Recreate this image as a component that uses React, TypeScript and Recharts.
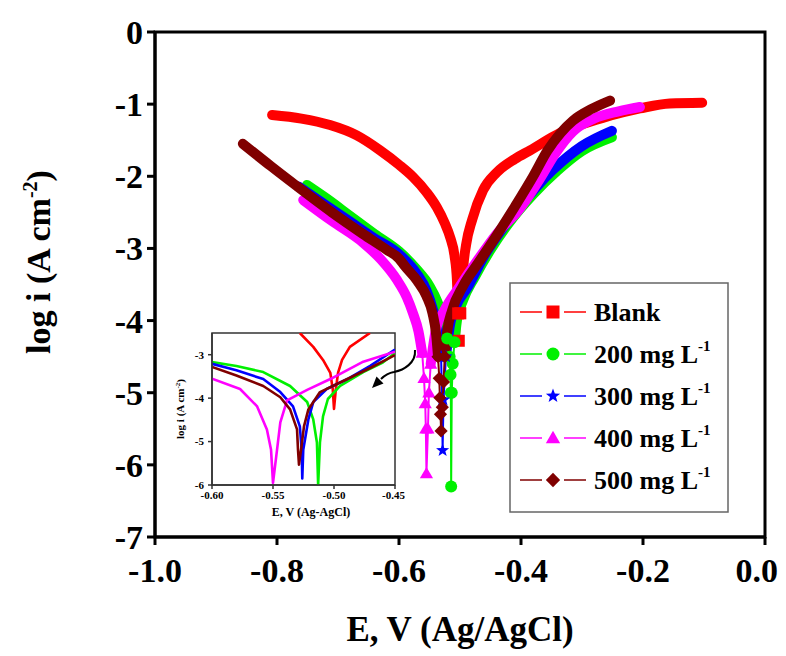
import React from "react";
import { ComposedChart, Line, XAxis, YAxis, ReferenceArea, Label } from "recharts";

const FONT = "Times New Roman, Liberation Serif, DejaVu Serif, serif";

const xTicks = [-1.0, -0.8, -0.6, -0.4, -0.2, 0.0];
const yTicks = [0, -1, -2, -3, -4, -5, -6, -7];
const insetXTicks = [-0.6, -0.55, -0.5, -0.45];
const insetYTicks = [-3, -4, -5, -6];

const seriesNames = ["Blank", "200 mg L", "300 mg L", "400 mg L", "500 mg L"];
const seriesUnits = ["", "-1", "-1", "-1", "-1"];
const seriesColors = ["#ff0000", "#00f000", "#0000ff", "#ff00ff", "#800000"];
const seriesShapes = ["square", "circle", "star", "triangle", "diamond"];

// main plot, [E (V), log i]
const blankCathodic = [[-0.808, -1.15], [-0.76, -1.2], [-0.713, -1.29], [-0.67, -1.43], [-0.631, -1.64], [-0.6, -1.84], [-0.577, -2.01], [-0.555, -2.22], [-0.538, -2.43], [-0.525, -2.65], [-0.516, -2.85], [-0.509, -3.1], [-0.505, -3.44], [-0.503, -3.9]];
const blankTip = [[-0.503, -3.9], [-0.502, -4.28], [-0.4995, -3.9]];
const blankAnodic = [[-0.4995, -3.9], [-0.497, -3.6], [-0.495, -3.3], [-0.49, -2.95], [-0.48, -2.6], [-0.462, -2.19], [-0.44, -1.95], [-0.41, -1.76], [-0.385, -1.64], [-0.336, -1.4], [-0.3, -1.28], [-0.266, -1.19], [-0.205, -1.06], [-0.156, -0.99], [-0.103, -0.98]];

const g200Cathodic = [[-0.751, -2.12], [-0.72, -2.3], [-0.68, -2.55], [-0.64, -2.8], [-0.6, -3.04], [-0.57, -3.3], [-0.55, -3.52], [-0.537, -3.74], [-0.527, -4.0], [-0.521, -4.25]];
const g200Tip = [[-0.521, -4.25], [-0.517, -4.5], [-0.5155, -4.75], [-0.515, -5.0], [-0.5145, -6.3], [-0.5135, -5.0], [-0.512, -4.6], [-0.509, -4.3]];
const g200Anodic = [[-0.509, -4.3], [-0.505, -4.0], [-0.495, -3.72], [-0.476, -3.4], [-0.45, -3.02], [-0.42, -2.65], [-0.38, -2.25], [-0.34, -1.92], [-0.3, -1.65], [-0.251, -1.46]];

const g300Cathodic = [[-0.765, -2.14], [-0.72, -2.4], [-0.68, -2.63], [-0.64, -2.86], [-0.6, -3.08], [-0.57, -3.36], [-0.555, -3.58], [-0.544, -3.86], [-0.535, -4.19], [-0.531, -4.5]];
const g300Tip = [[-0.531, -4.5], [-0.5295, -5.1], [-0.5285, -5.8], [-0.527, -5.1], [-0.523, -4.5]];
const g300Anodic = [[-0.523, -4.5], [-0.517, -4.09], [-0.506, -3.79], [-0.489, -3.56], [-0.46, -3.1], [-0.43, -2.72], [-0.39, -2.3], [-0.35, -1.93], [-0.3, -1.58], [-0.251, -1.37]];

const g400Cathodic = [[-0.757, -2.33], [-0.71, -2.62], [-0.659, -2.92], [-0.63, -3.15], [-0.603, -3.44], [-0.587, -3.68], [-0.577, -3.9], [-0.568, -4.15], [-0.562, -4.45]];
const g400Tip = [[-0.562, -4.45], [-0.559, -4.8], [-0.557, -5.15], [-0.556, -5.5], [-0.555, -6.12], [-0.5525, -5.5], [-0.551, -5.0], [-0.548, -4.6]];
const g400Anodic = [[-0.548, -4.6], [-0.54, -4.15], [-0.525, -3.85], [-0.503, -3.56], [-0.47, -3.15], [-0.44, -2.8], [-0.402, -2.45], [-0.37, -2.05], [-0.345, -1.7], [-0.315, -1.38], [-0.28, -1.2], [-0.24, -1.1], [-0.205, -1.04]];

const g500Cathodic = [[-0.856, -1.55], [-0.81, -1.86], [-0.767, -2.14], [-0.71, -2.5], [-0.659, -2.8], [-0.62, -3.02], [-0.6, -3.14], [-0.59, -3.25], [-0.57, -3.45], [-0.555, -3.66], [-0.545, -3.9], [-0.539, -4.2], [-0.536, -4.5]];
const g500Tip = [[-0.536, -4.5], [-0.534, -4.8], [-0.533, -5.07], [-0.532, -5.3], [-0.531, -5.53], [-0.529, -5.2], [-0.527, -4.85], [-0.525, -4.5]];
const g500Anodic = [[-0.525, -4.5], [-0.521, -4.15], [-0.513, -3.86], [-0.495, -3.52], [-0.47, -3.2], [-0.44, -2.82], [-0.41, -2.42], [-0.38, -2.0], [-0.357, -1.65], [-0.335, -1.4], [-0.315, -1.23], [-0.285, -1.07], [-0.254, -0.95]];

// inset, zoom near Ecorr
const blankInset = [[-0.528, -2.5], [-0.517, -2.82], [-0.509, -3.12], [-0.503, -3.42], [-0.501, -3.8], [-0.5, -4.25], [-0.4985, -3.8], [-0.4967, -3.42], [-0.4934, -3.12], [-0.487, -2.82], [-0.4705, -2.5]];
const g200Inset = [[-0.6, -3.17], [-0.58, -3.26], [-0.558, -3.4], [-0.536, -3.72], [-0.522, -4.09], [-0.517, -4.49], [-0.514, -5.02], [-0.513, -6.0], [-0.5115, -5.02], [-0.509, -4.42], [-0.505, -4.02], [-0.495, -3.72], [-0.476, -3.4], [-0.46, -3.18], [-0.45, -2.96]];
const g300Inset = [[-0.6, -3.21], [-0.58, -3.36], [-0.558, -3.56], [-0.544, -3.86], [-0.5336, -4.19], [-0.528, -4.65], [-0.5265, -5.19], [-0.526, -5.85], [-0.5252, -5.19], [-0.521, -4.49], [-0.517, -4.09], [-0.506, -3.79], [-0.489, -3.56], [-0.47, -3.25], [-0.45, -2.88]];
const g400Inset = [[-0.6, -3.55], [-0.577, -3.79], [-0.563, -4.19], [-0.555, -4.72], [-0.5516, -5.19], [-0.55, -5.95], [-0.5467, -5.19], [-0.544, -4.56], [-0.5385, -4.05], [-0.522, -3.81], [-0.503, -3.56], [-0.476, -3.16], [-0.45, -2.93]];
const g500Inset = [[-0.6, -3.28], [-0.58, -3.48], [-0.558, -3.72], [-0.544, -3.98], [-0.536, -4.26], [-0.5303, -4.72], [-0.5295, -5.19], [-0.5287, -5.53], [-0.527, -5.19], [-0.5246, -4.65], [-0.521, -4.26], [-0.5115, -3.86], [-0.489, -3.56], [-0.47, -3.3], [-0.45, -3.01]];

type Pt = { x: number; y: number };
const toPts = (arr: number[][]): Pt[] => arr.map(([x, y]) => ({ x, y }));

const mainSeries = [
  { cath: blankCathodic, tip: blankTip, anod: blankAnodic },
  { cath: g200Cathodic, tip: g200Tip, anod: g200Anodic },
  { cath: g300Cathodic, tip: g300Tip, anod: g300Anodic },
  { cath: g400Cathodic, tip: g400Tip, anod: g400Anodic },
  { cath: g500Cathodic, tip: g500Tip, anod: g500Anodic },
];
const insetSeries = [blankInset, g200Inset, g300Inset, g400Inset, g500Inset];

function starPoints(cx: number, cy: number, R: number, r: number) {
  const pts: string[] = [];
  for (let i = 0; i < 10; i++) {
    const a = -Math.PI / 2 + (i * Math.PI) / 5;
    const rad = i % 2 === 0 ? R : r;
    pts.push(`${cx + rad * Math.cos(a)},${cy + rad * Math.sin(a)}`);
  }
  return pts.join(" ");
}

function Marker({ shape, cx, cy, s, color }: { shape: string; cx: number; cy: number; s: number; color: string }) {
  if (cx == null || cy == null) return null;
  const h = s / 2;
  if (shape === "square") return <rect x={cx - h} y={cy - h} width={s} height={s} fill={color} />;
  if (shape === "circle") return <circle cx={cx} cy={cy} r={h} fill={color} />;
  if (shape === "star") return <polygon points={starPoints(cx, cy, h * 1.15, h * 0.48)} fill={color} />;
  if (shape === "triangle")
    return <polygon points={`${cx},${cy - h * 1.1} ${cx + h * 1.1},${cy + h * 0.8} ${cx - h * 1.1},${cy + h * 0.8}`} fill={color} />;
  return <polygon points={`${cx},${cy - h * 1.1} ${cx + h * 1.1},${cy} ${cx},${cy + h * 1.1} ${cx - h * 1.1},${cy}`} fill={color} />;
}

const W = 770;
const H = 647;
const txt = { fontFamily: FONT, fontWeight: 700 };

const XTitle = () => (
  <text x={452} y={633} textAnchor="middle" style={{ ...txt, fontSize: 35 }} fill="#000">
    E, V (Ag/AgCl)
  </text>
);

const YTitle = () => (
  <text x={42} y={254} transform="rotate(-90, 42, 254)" textAnchor="middle" style={{ ...txt, fontSize: 34 }} fill="#000">
    log i (A cm
    <tspan dy={-13} style={{ fontSize: 20 }}>-2</tspan>
    <tspan dy={13}>)</tspan>
  </text>
);

const InsetXTitle = () => (
  <text x={141} y={191} textAnchor="middle" style={{ ...txt, fontSize: 12 }} fill="#000">
    E, V (Ag-AgCl)
  </text>
);

const InsetYTitle = () => (
  <text x={14} y={84} transform="rotate(-90, 14, 84)" textAnchor="middle" style={{ ...txt, fontSize: 11 }} fill="#000">
    log i (A cm
    <tspan dy={-4} style={{ fontSize: 7 }}>-2</tspan>
    <tspan dy={4}>)</tspan>
  </text>
);

export default function App() {
  const tickStyle = { fontSize: 34, fontWeight: 700, fill: "#000", fontFamily: FONT };
  const insetTick = { fontSize: 11, fontWeight: 700, fill: "#000", fontFamily: FONT };

  return (
    <div style={{ position: "relative", width: W, height: H, background: "#fff", fontFamily: FONT }}>
      <ComposedChart width={W} height={H} margin={{ top: 24, right: 13, left: 0, bottom: 0 }}>
        <XAxis
          type="number"
          dataKey="x"
          domain={[-1, 0]}
          ticks={xTicks}
          allowDataOverflow
          tickFormatter={(v: number) => v.toFixed(1)}
          tick={tickStyle}
          tickSize={8}
          tickMargin={13}
          tickLine={{ stroke: "#000", strokeWidth: 3 }}
          axisLine={{ stroke: "#000", strokeWidth: 3 }}
          height={118}
        >
          <Label content={XTitle} />
        </XAxis>
        <YAxis
          type="number"
          domain={[-7, 0]}
          ticks={yTicks}
          allowDataOverflow
          tick={tickStyle}
          tickSize={8}
          tickMargin={4}
          tickLine={{ stroke: "#000", strokeWidth: 3 }}
          axisLine={{ stroke: "#000", strokeWidth: 3 }}
          width={147}
        >
          <Label content={YTitle} />
        </YAxis>
        <ReferenceArea x1={-1} x2={0} y1={-7} y2={0} fill="none" stroke="#000" strokeWidth={3} ifOverflow="visible" />
        {mainSeries.map((s, i) => [
          <Line
            key={`c${i}`}
            data={toPts(s.cath)}
            dataKey="y"
            type="monotoneX"
            stroke={seriesColors[i]}
            strokeWidth={10}
            strokeLinecap="round"
            strokeLinejoin="round"
            dot={false}
            isAnimationActive={false}
          />,
          <Line
            key={`a${i}`}
            data={toPts(s.anod)}
            dataKey="y"
            type="monotoneX"
            stroke={seriesColors[i]}
            strokeWidth={10}
            strokeLinecap="round"
            strokeLinejoin="round"
            dot={false}
            isAnimationActive={false}
          />,
          <Line
            key={`t${i}`}
            data={toPts(s.tip)}
            dataKey="y"
            type="linear"
            stroke={seriesColors[i]}
            strokeWidth={2}
            dot={(p: any) => (
              <Marker key={`m${i}-${p.index}`} shape={seriesShapes[i]} cx={p.cx} cy={p.cy} s={12} color={seriesColors[i]} />
            )}
            isAnimationActive={false}
          />,
        ])}
      </ComposedChart>

      <div style={{ position: "absolute", left: 162, top: 317, width: 235, height: 200, background: "#fff" }}>
        <ComposedChart width={235} height={200} margin={{ top: 8, right: 10, left: 0, bottom: 0 }}>
          <XAxis
            type="number"
            dataKey="x"
            domain={[-0.6, -0.45]}
            ticks={insetXTicks}
            allowDataOverflow
            tickFormatter={(v: number) => v.toFixed(2)}
            tick={insetTick}
            tickSize={4}
            tickMargin={2}
            tickLine={{ stroke: "#333", strokeWidth: 1.5 }}
            axisLine={{ stroke: "#333", strokeWidth: 1.5 }}
            height={40}
          >
            <Label content={InsetXTitle} />
          </XAxis>
          <YAxis
            type="number"
            domain={[-6, -2.5]}
            ticks={insetYTicks}
            allowDataOverflow
            tick={insetTick}
            tickSize={4}
            tickMargin={4}
            tickLine={{ stroke: "#333", strokeWidth: 1.5 }}
            axisLine={{ stroke: "#333", strokeWidth: 1.5 }}
            width={42}
          >
            <Label content={InsetYTitle} />
          </YAxis>
          <ReferenceArea x1={-0.6} x2={-0.45} y1={-6} y2={-2.5} fill="none" stroke="#333" strokeWidth={1.5} ifOverflow="visible" />
          {insetSeries.map((d, i) => (
            <Line
              key={`i${i}`}
              data={toPts(d)}
              dataKey="y"
              type="linear"
              stroke={seriesColors[i]}
              strokeWidth={2.6}
              strokeLinejoin="round"
              dot={false}
              isAnimationActive={false}
            />
          ))}
        </ComposedChart>
      </div>

      <svg width={W} height={H} style={{ position: "absolute", left: 0, top: 0, pointerEvents: "none" }}>
        <path d="M407,342 C408,355 396,362 386,364 C380,365 376,368 373,371" fill="none" stroke="#000" strokeWidth={2} />
        <polygon points="364,380 375.5,375.5 368.5,368.5" fill="#000" />
        <rect x={502} y={275} width={218} height={229} fill="#fff" stroke="#666" strokeWidth={1.5} />
        {seriesNames.map((name, i) => {
          const cy = 304 + i * 42;
          return (
            <g key={name}>
              <line x1={512} x2={534} y1={cy} y2={cy} stroke={seriesColors[i]} strokeWidth={1.5} />
              <line x1={556} x2={578} y1={cy} y2={cy} stroke={seriesColors[i]} strokeWidth={1.5} />
              <Marker shape={seriesShapes[i]} cx={545} cy={cy} s={13} color={seriesColors[i]} />
              <text x={586} y={cy + 9} style={{ ...txt, fontSize: 26 }} fill="#000">
                {name}
                {seriesUnits[i] && (
                  <tspan dy={-12} style={{ fontSize: 15 }}>
                    {seriesUnits[i]}
                  </tspan>
                )}
              </text>
            </g>
          );
        })}
      </svg>
    </div>
  );
}
